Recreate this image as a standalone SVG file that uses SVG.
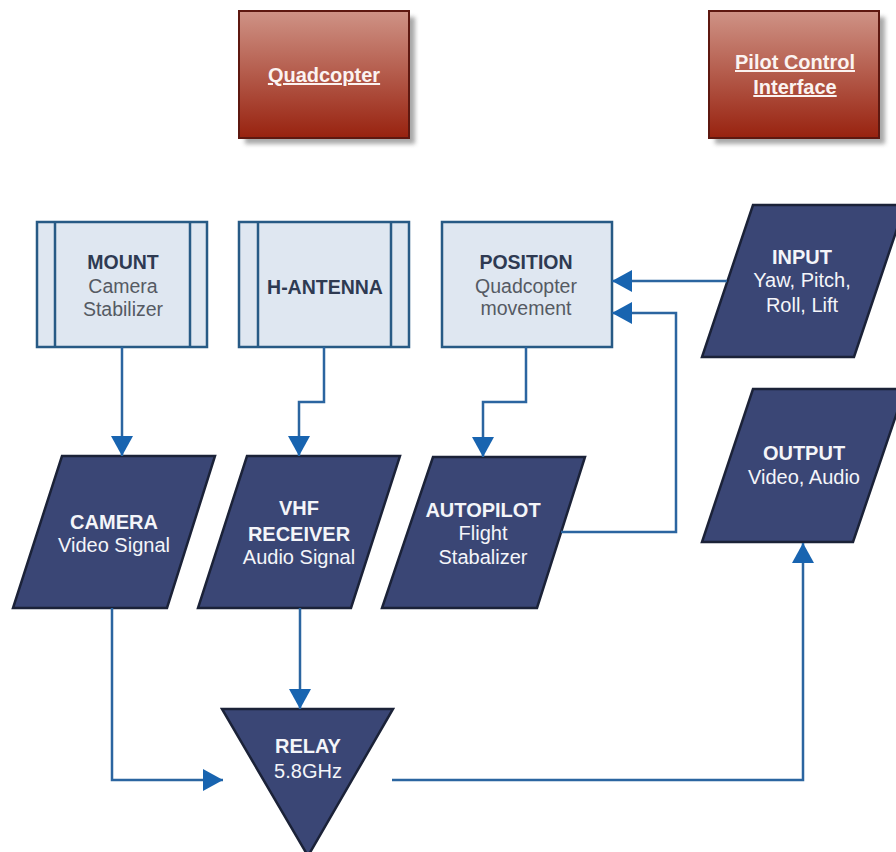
<svg xmlns="http://www.w3.org/2000/svg" width="896" height="852" viewBox="0 0 896 852">
<defs>
<linearGradient id="red" x1="0" y1="0" x2="0" y2="1">
<stop offset="0" stop-color="#cf9386"/>
<stop offset="1" stop-color="#98220f"/>
</linearGradient>
<filter id="blur" x="-10%" y="-10%" width="120%" height="120%"><feGaussianBlur stdDeviation="2"/></filter>
<marker id="ah" viewBox="0 0 20 22" refX="20" refY="11" markerWidth="20" markerHeight="22" markerUnits="userSpaceOnUse" orient="auto">
<path d="M0,0 L20,11 L0,22 Z" fill="#1864b0"/>
</marker>
<style>
.shadow{fill:#8c8c8c;opacity:.75;filter:url(#blur)}
.red{fill:url(#red);stroke:#5e1810;stroke-width:2}
.rt{font-family:"Liberation Sans",Arial,sans-serif;font-size:20px;font-weight:bold;fill:#fbf3f1;text-decoration:underline;text-anchor:middle}
.lb{fill:#dfe7f1;stroke:#275a85;stroke-width:2.5}
.lbl{stroke:#275a85;stroke-width:2.5}
.lt{font-family:"Liberation Sans",Arial,sans-serif;font-size:19.5px;fill:#555a63;text-anchor:middle}
.lt .b{font-weight:bold;fill:#2e3a52}
.dk{fill:#3a4675;stroke:#1b2238;stroke-width:2.5}
.dt{font-family:"Liberation Sans",Arial,sans-serif;font-size:20px;fill:#f4f5f9;text-anchor:middle}
.dt .b{font-weight:bold}
.cn{fill:none;stroke:#2b65a0;stroke-width:2.5;marker-end:url(#ah)}
</style>
</defs>
<rect width="896" height="852" fill="#ffffff"/>

<g id="quadcopter">
<rect class="shadow" x="245" y="17" width="170" height="127"/>
<rect class="red" x="239" y="11" width="170" height="127"/>
<text class="rt" x="324" y="82">Quadcopter</text>
</g>

<g id="pilot-control-interface">
<rect class="shadow" x="715" y="17" width="170" height="127"/>
<rect class="red" x="709" y="11" width="170" height="127"/>
<text class="rt" x="795" y="69">Pilot Control</text>
<text class="rt" x="795" y="94">Interface</text>
</g>

<g id="mount">
<rect class="lb" x="37" y="222" width="170" height="125"/>
<line class="lbl" x1="55" y1="222" x2="55" y2="347"/>
<line class="lbl" x1="190" y1="222" x2="190" y2="347"/>
<text class="lt" x="123" y="269"><tspan class="b">MOUNT</tspan><tspan x="123" dy="24">Camera</tspan><tspan x="123" dy="23">Stabilizer</tspan></text>
</g>

<g id="h-antenna">
<rect class="lb" x="239" y="222" width="170" height="125"/>
<line class="lbl" x1="258" y1="222" x2="258" y2="347"/>
<line class="lbl" x1="391" y1="222" x2="391" y2="347"/>
<text class="lt" x="325" y="294"><tspan class="b">H-ANTENNA</tspan></text>
</g>

<g id="position">
<rect class="lb" x="442" y="222" width="170" height="125"/>
<text class="lt" x="526" y="269"><tspan class="b">POSITION</tspan><tspan x="526" dy="24">Quadcopter</tspan><tspan x="526" dy="22">movement</tspan></text>
</g>

<g id="input">
<polygon class="dk" points="753,205 905,205 854,357 702,357"/>
<text class="dt" x="802" y="264"><tspan class="b">INPUT</tspan><tspan x="802" dy="23">Yaw, Pitch,</tspan><tspan x="802" dy="25">Roll, Lift</tspan></text>
</g>

<g id="output">
<polygon class="dk" points="753,389 905,389 853,542 702,542"/>
<text class="dt" x="804" y="460"><tspan class="b">OUTPUT</tspan><tspan x="804" dy="24">Video, Audio</tspan></text>
</g>

<g id="camera">
<polygon class="dk" points="62,456 215,456 167,608 13,608"/>
<text class="dt" x="114" y="529"><tspan class="b">CAMERA</tspan><tspan x="114" dy="23">Video Signal</tspan></text>
</g>

<g id="vhf-receiver">
<polygon class="dk" points="247,456 400,456 351,608 198,608"/>
<text class="dt" x="299" y="515"><tspan class="b">VHF</tspan><tspan x="299" dy="26" class="b">RECEIVER</tspan><tspan x="299" dy="23">Audio Signal</tspan></text>
</g>

<g id="autopilot">
<polygon class="dk" points="433,457 585,457 537,608 382,608"/>
<text class="dt" x="483" y="517"><tspan class="b">AUTOPILOT</tspan><tspan x="483" dy="23">Flight</tspan><tspan x="483" dy="24">Stabalizer</tspan></text>
</g>

<g id="relay">
<polygon class="dk" points="222,709 393,709 308,856"/>
<text class="dt" x="308" y="753"><tspan class="b">RELAY</tspan><tspan x="308" dy="25">5.8GHz</tspan></text>
</g>

<g id="connectors">
<path class="cn" d="M122,347 V456"/>
<path class="cn" d="M324,347 V402 H299 V456"/>
<path class="cn" d="M526,347 V402 H483 V457"/>
<path class="cn" d="M727,281 H612"/>
<path class="cn" d="M561,532 H676 V313 H612"/>
<path class="cn" d="M112,608 V780 H223"/>
<path class="cn" d="M300,608 V709"/>
<path class="cn" d="M392,780 H803 V543"/>
</g>
</svg>
